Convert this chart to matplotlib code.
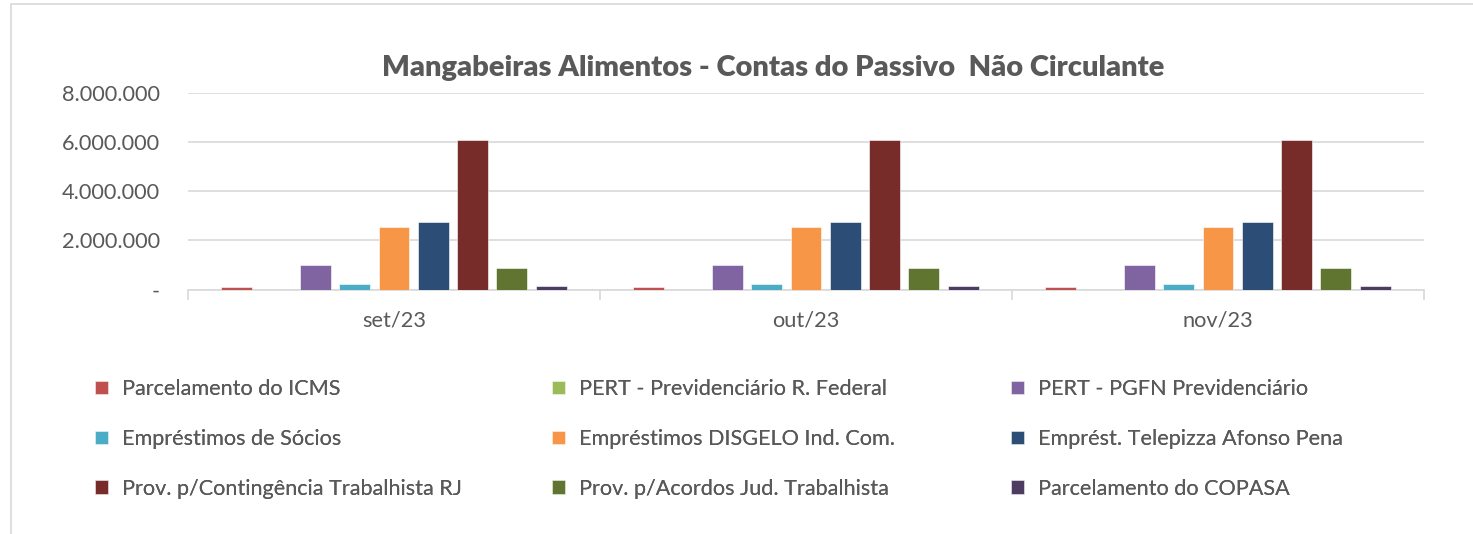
import numpy as np
import matplotlib
matplotlib.use("Agg")
import matplotlib.pyplot as plt
from matplotlib.patches import Rectangle
from matplotlib.ticker import FuncFormatter

plt.rcParams['font.family'] = ['Lato', 'DejaVu Sans']

months = ['set/23', 'out/23', 'nov/23']
series = ['Parcelamento do ICMS', 'PERT - Previdenciário R. Federal', 'PERT - PGFN Previdenciário',
          'Empréstimos de Sócios', 'Empréstimos DISGELO Ind. Com.', 'Emprést. Telepizza Afonso Pena',
          'Prov. p/Contingência Trabalhista RJ', 'Prov. p/Acordos Jud. Trabalhista', 'Parcelamento do COPASA']
colors = ['#C0504D', '#9BBB59', '#8064A2', '#4BACC6', '#F79646', '#2C4D75', '#772C2A', '#5F7530', '#4D3B62']

icms = [90000, 90000, 90000]
pert_rf = [0, 0, 0]
pert_pgfn = [980000, 980000, 980000]
socios = [215000, 215000, 215000]
disgelo = [2530000, 2530000, 2530000]
telepizza = [2750000, 2750000, 2750000]
prov_rj = [6080000, 6080000, 6080000]
acordos = [870000, 870000, 870000]
copasa = [135000, 135000, 135000]
values = [icms, pert_rf, pert_pgfn, socios, disgelo, telepizza, prov_rj, acordos, copasa]

text_col = '#595959'
grid_col = '#D9D9D9'

W, H = 1473, 534
fig = plt.figure(figsize=(W / 100, H / 100), dpi=100)
# outer chart frame (left and top edges visible)
fig.patches.append(Rectangle((11 / W, -0.1), 1.2, 1 - 4 / H + 0.1, transform=fig.transFigure,
                             fill=False, edgecolor=grid_col, linewidth=1.2))

ax = fig.add_axes([188 / W, 1 - 289.5 / H, (1424 - 188) / W, (289.5 - 93) / H])

x = np.arange(len(months))
step = 0.0954
width = 0.0752
bars = []
for i, (name, vals, c) in enumerate(zip(series, values, colors)):
    b = ax.bar(x + (i - 4) * step, vals, width, color=c, edgecolor='white', linewidth=0.4,
               label=name, zorder=3)
    bars.append(b)

ax.set_xlim(-0.5, 2.5)
ax.set_ylim(0, 8000000)
ax.set_yticks(np.arange(0, 8000001, 2000000))


def fmt(v, pos):
    if v == 0:
        return '-'
    return '{:,.0f}'.format(v).replace(',', '.')


ax.yaxis.set_major_formatter(FuncFormatter(fmt))
ax.set_xticks(x)
ax.set_xticklabels(months)
ax.set_xticks([-0.5, 0.5, 1.5, 2.5], minor=True)
ax.tick_params(axis='x', which='major', length=0, pad=15, labelsize=15.7, labelcolor=text_col)
ax.tick_params(axis='x', which='minor', length=7, color=grid_col, width=1.2)
ax.tick_params(axis='y', length=0, pad=20, labelsize=15.7, labelcolor=text_col)
ax.grid(axis='y', color=grid_col, linewidth=1.2, zorder=0)
for s in ['top', 'right', 'left']:
    ax.spines[s].set_visible(False)
ax.spines['bottom'].set_color(grid_col)
ax.spines['bottom'].set_linewidth(1.2)

fig.text(773 / W, 1 - 68 / H, 'Mangabeiras Alimentos - Contas do Passivo  Não Circulante',
         ha='center', va='center', fontsize=21, fontweight='heavy', color=text_col)

# legend: three columns, filled row by row
col_x = [95, 552, 1011]
for c in range(3):
    idx = [c, c + 3, c + 6]
    leg = fig.legend([bars[i] for i in idx], [series[i] for i in idx],
                     loc='upper left', bbox_to_anchor=(col_x[c] / W, 1 - 379 / H),
                     frameon=False, fontsize=15.6, labelcolor=text_col,
                     handlelength=0.58, handleheight=0.58, handletextpad=0.65,
                     labelspacing=1.38, borderaxespad=0, borderpad=0)
    fig.add_artist(leg)

fig.savefig('out.png', dpi=100)
